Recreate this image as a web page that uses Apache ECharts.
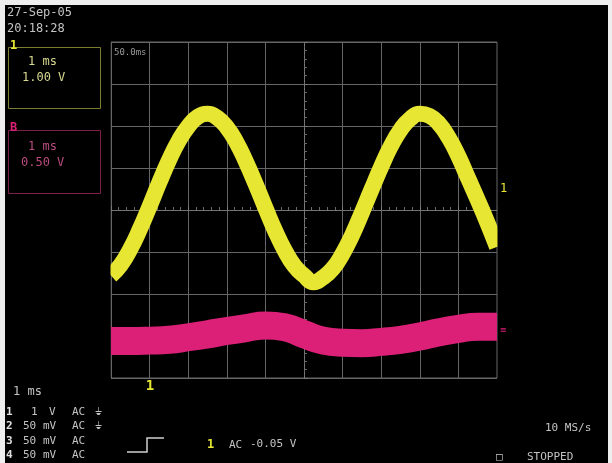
<!DOCTYPE html>
<html>
<head>
<meta charset="utf-8">
<script src="https://cdn.jsdelivr.net/npm/echarts@6/dist/echarts.min.js"></script>
<style>
  html, body { margin: 0; padding: 0; background: #f2f2f2; }
  #chart { position: absolute; left: 0; top: 0; width: 612px; height: 463px; }
</style>
</head>
<body>
<div id="chart"></div>
<script>
// Channel 1 (yellow), time in divisions (1 ms/div), amplitude in divisions
const ch1Time = [0,0.25,0.5,0.75,1,1.25,1.5,1.75,2,2.25,2.5,2.75,3,3.25,3.5,3.75,4,4.25,4.5,4.75,5,5.25,5.5,5.75,6,6.25,6.5,6.75,7,7.25,7.5,7.75,8,8.25,8.5,8.75,9,9.25,9.5,9.75,10];
const ch1Volts = [-1.56,-1.31,-0.93,-0.45,0.09,0.65,1.18,1.64,1.99,2.22,2.29,2.20,1.97,1.61,1.14,0.61,0.05,-0.49,-0.96,-1.33,-1.56,-1.72,-1.60,-1.39,-1.04,-0.59,-0.06,0.49,1.03,1.52,1.91,2.17,2.29,2.24,2.05,1.72,1.28,0.76,0.24,-0.30,-0.88];
// Math trace B (magenta)
const mathTime = [0,0.5,1,1.5,2,2.5,3,3.5,4,4.5,5,5.5,6,6.5,7,7.5,8,8.5,9,9.5,10];
const mathVolts = [-3.12,-3.12,-3.11,-3.09,-3.03,-2.96,-2.88,-2.81,-2.75,-2.79,-2.96,-3.11,-3.16,-3.17,-3.14,-3.09,-3.01,-2.91,-2.83,-2.78,-2.78];
// Screen annotations
const dateLines = ['27-Sep-05', '20:18:28'];
const ch1Box = ['1 ms', '1.00 V'];
const mathBox = ['1 ms', '0.50 V'];
const channelRows = [
  ['1', '1', 'V', 'AC', '\u23DA'],
  ['2', '50', 'mV', 'AC', '\u23DA'],
  ['3', '50', 'mV', 'AC', ''],
  ['4', '50', 'mV', 'AC', '']
];

const chart = echarts.init(document.getElementById('chart'));
const mono = 'DejaVu Sans Mono';
const txtCol = '#c4c4c4';
const yel = '#e6e633';
const mag = '#dc2078';

function t(text, x, y, fill, size, align, weight) {
  return { type: 'text', silent: true, z: 12,
    style: { text: text, x: x, y: y, fill: fill || txtCol,
      font: (weight || 'normal') + ' ' + (size || 12) + 'px "' + mono + '"',
      textAlign: align || 'left', textVerticalAlign: 'middle' } };
}

const graphics = [
  // mask trace stroke overhang outside the graticule
  { type: 'rect', shape: { x: 90, y: 30, width: 20.5, height: 360 }, style: { fill: '#000000' }, z: 8, silent: true },
  { type: 'rect', shape: { x: 497.5, y: 30, width: 20, height: 360 }, style: { fill: '#000000' }, z: 8, silent: true },
  { type: 'rect', shape: { x: 0, y: 0, width: 612, height: 5 }, style: { fill: '#eeeeee' }, z: 20 },
  { type: 'rect', shape: { x: 0, y: 0, width: 5, height: 463 }, style: { fill: '#eeeeee' }, z: 20 },
  { type: 'rect', shape: { x: 608, y: 0, width: 4, height: 463 }, style: { fill: '#eeeeee' }, z: 20 },
  t(dateLines[0], 7, 13), t(dateLines[1], 7, 29),
  // Channel 1 box
  { type: 'rect', shape: { x: 8.5, y: 47.5, width: 92, height: 61 }, style: { fill: 'none', stroke: '#7d7d32', lineWidth: 1 }, z: 12 },
  t('1', 10, 46, yel, 12, 'left', 'bold'),
  t(ch1Box[0], 28, 62, '#d8d890'), t(ch1Box[1], 22, 78, '#d8d890'),
  // Math box
  { type: 'rect', shape: { x: 8.5, y: 130.5, width: 92, height: 63 }, style: { fill: 'none', stroke: '#7a1f48', lineWidth: 1 }, z: 12 },
  t('B', 10, 128, mag, 12, 'left', 'bold'),
  t(mathBox[0], 28, 147, '#b84c7e'), t(mathBox[1], 21, 163, '#b84c7e'),
  // small label inside grid
  t('50.0ms', 114, 53, '#9a9a9a', 9),
  // right-side markers
  t('1', 500, 189, yel, 12),
  t('\u2261', 500, 330, mag, 10),
  // trigger position marker
  t('1', 150, 386, yel, 14, 'center', 'bold'),
  // bottom left
  t('1 ms', 13, 392)
];
channelRows.forEach(function (r, i) {
  const y = 412 + i * 14.5;
  graphics.push(t(r[0], 6, y, '#e0e0e0', 11, 'left', 'bold'));
  graphics.push(t(r[1], r[1].length > 1 ? 23 : 31, y, txtCol, 11));
  graphics.push(t(r[2], r[2].length > 1 ? 43 : 49, y, txtCol, 11));
  graphics.push(t(r[3], 72, y, txtCol, 11));
  if (r[4]) graphics.push(t(r[4], 95, y, txtCol, 10));
});
// trigger symbol and trigger settings
graphics.push({ type: 'polyline', shape: { points: [[127, 452], [147, 452], [147, 438], [164, 438]] },
  style: { stroke: '#d0d0d0', lineWidth: 1.5, fill: 'none' }, z: 12 });
graphics.push(t('1', 207, 445, yel, 12, 'left', 'bold'));
graphics.push(t('AC', 229, 445, txtCol, 11));
graphics.push(t('-0.05 V', 250, 444, txtCol, 11));
graphics.push(t('10 MS/s', 545, 428, txtCol, 11));
graphics.push(t('\u25A1', 496, 457, txtCol, 11));
graphics.push(t('STOPPED', 527, 457, txtCol, 11));

const gridRect = { left: 111, top: 42, width: 386, height: 336 };
const gridCol = '#666666';

const option = {
  backgroundColor: '#000000',
  animation: false,
  grid: [
    Object.assign({ show: true, borderColor: gridCol, borderWidth: 1, backgroundColor: 'transparent' }, gridRect),
    Object.assign({ show: false }, gridRect)
  ],
  xAxis: [
    { type: 'value', gridIndex: 0, min: 0, max: 10, interval: 1,
      axisLine: { show: false }, axisTick: { show: false }, axisLabel: { show: false },
      splitLine: { show: true, lineStyle: { color: gridCol, width: 1 } } },
    { type: 'value', gridIndex: 1, min: -5, max: 5, interval: 1,
      axisLine: { show: true, onZero: true, lineStyle: { color: '#7a7a7a', type: [2, 2] } },
      axisTick: { show: true, inside: true, length: 4, lineStyle: { color: '#7a7a7a' } },
      minorTick: { show: true, splitNumber: 5, length: 3, lineStyle: { color: '#6a6a6a' } },
      axisLabel: { show: false }, splitLine: { show: false } }
  ],
  yAxis: [
    { type: 'value', gridIndex: 0, min: -4, max: 4, interval: 1,
      axisLine: { show: false }, axisTick: { show: false }, axisLabel: { show: false },
      splitLine: { show: true, lineStyle: { color: gridCol, width: 1 } } },
    { type: 'value', gridIndex: 1, min: -4, max: 4, interval: 1,
      axisLine: { show: true, onZero: true, lineStyle: { color: '#7a7a7a', type: [2, 2] } },
      axisTick: { show: true, inside: true, length: 4, lineStyle: { color: '#7a7a7a' } },
      minorTick: { show: true, splitNumber: 5, length: 3, lineStyle: { color: '#6a6a6a' } },
      axisLabel: { show: false }, splitLine: { show: false } }
  ],
  series: [
    { name: 'B', type: 'line', xAxisIndex: 0, yAxisIndex: 0, z: 3,
      data: mathTime.map(function (x, i) { return [x, mathVolts[i]]; }),
      smooth: true, showSymbol: false, clip: true,
      lineStyle: { color: mag, width: 28, cap: 'butt' } },
    { name: 'C1', type: 'line', xAxisIndex: 0, yAxisIndex: 0, z: 4,
      data: ch1Time.map(function (x, i) { return [x, ch1Volts[i]]; }),
      smooth: true, showSymbol: false, clip: true,
      lineStyle: { color: yel, width: 16, cap: 'butt', join: 'round' } }
  ],
  graphic: graphics
};
chart.setOption(option);
</script>
</body>
</html>
